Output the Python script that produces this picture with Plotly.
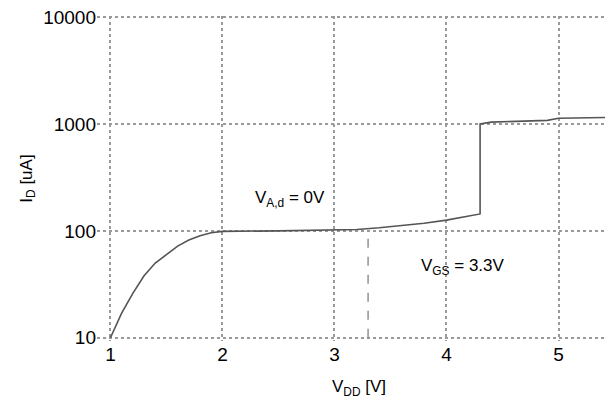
import plotly.graph_objects as go

# I_D vs V_DD
vdd = [1.0, 1.05, 1.1, 1.2, 1.3, 1.4, 1.5, 1.6, 1.7, 1.8, 1.9, 2.0, 2.5, 3.0,
       3.2, 3.4, 3.6, 3.8, 4.0, 4.2, 4.3, 4.3, 4.4, 4.9, 5.0, 5.45]
i_d = [10, 13, 17, 26, 38, 50, 60, 72, 82, 90, 96, 99, 100, 101,
       103, 107, 112, 118, 126, 138, 144, 1000, 1040, 1080, 1130, 1150]

v_gs = 3.3
v_gs_span = [10, 100]

x_ticks = [1, 2, 3, 4, 5]
y_ticks = [10, 100, 1000, 10000]

fig = go.Figure()
fig.add_trace(go.Scatter(x=vdd, y=i_d, mode="lines",
                         line=dict(color="#555555", width=1.6)))
fig.add_trace(go.Scatter(x=[v_gs, v_gs], y=v_gs_span, mode="lines",
                         line=dict(color="#777777", width=1.2, dash="dash")))

fig.add_annotation(x=2.6, y=2.3, xref="x", yref="y", showarrow=False,
                   text="V<sub>A,d</sub> = 0V", font=dict(size=17))
fig.add_annotation(x=4.15, y=1.66, xref="x", yref="y", showarrow=False,
                   text="V<sub>GS</sub> = 3.3V", font=dict(size=17))

grid = dict(showgrid=True, gridcolor="#999999", griddash="dot", gridwidth=1.5,
            zeroline=False, showline=False, ticks="",
            ticklabeloverflow="allow",
            tickfont=dict(size=19, color="black"))

fig.update_xaxes(range=[0.88, 5.558], tickvals=x_ticks,
                 ticktext=[str(v) for v in x_ticks],
                 title=dict(text="V<sub>DD</sub> [V]", font=dict(size=17),
                            standoff=16), **grid)
fig.update_yaxes(type="log", range=[0.97, 4.01], tickvals=y_ticks,
                 ticktext=[str(v) for v in y_ticks],
                 title=dict(text="I<sub>D</sub> [uA]", font=dict(size=17),
                            standoff=6), **grid)

fig.update_layout(width=613, height=408, showlegend=False,
                  margin=dict(l=89, r=0, t=8, b=75),
                  plot_bgcolor="white", paper_bgcolor="white",
                  font=dict(family="Liberation Sans, Arial, sans-serif",
                            color="black"))

fig.write_html("out.html")
